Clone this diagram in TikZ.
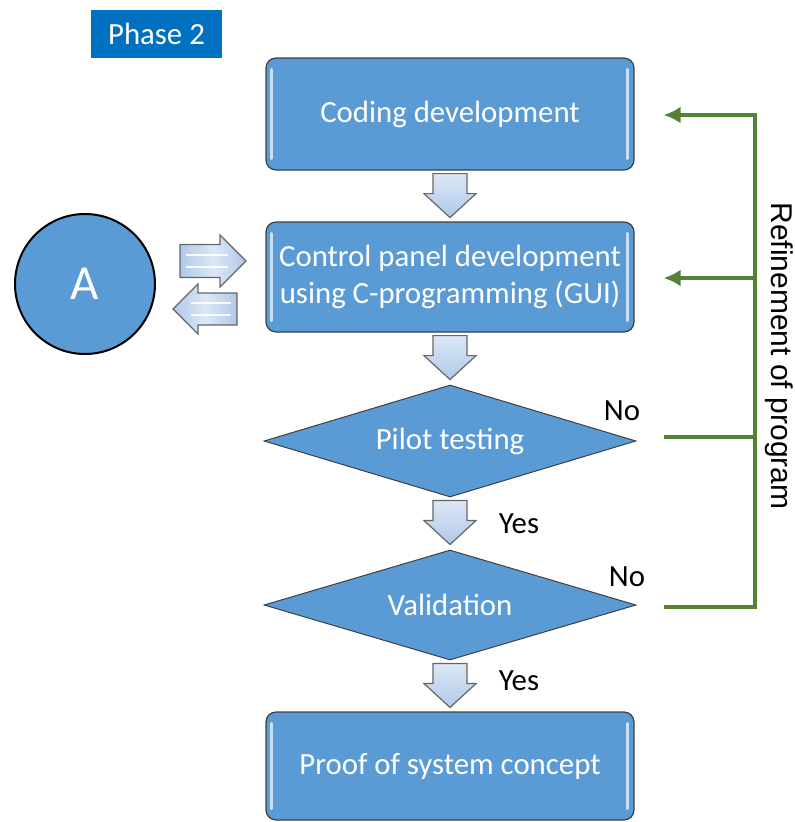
\documentclass[tikz,border=0pt]{standalone}
\usepackage{fontspec}
\setmainfont{Carlito}
\newfontfamily\arialf{Liberation Sans}
\usetikzlibrary{shapes.geometric,arrows.meta,calc}
\definecolor{boxblue}{HTML}{5B9BD5}
\definecolor{phaseblue}{HTML}{0070C0}
\definecolor{edgegray}{HTML}{404040}
\definecolor{stripe}{HTML}{C9E0F5}
\definecolor{arrowlight}{HTML}{DCE8F6}
\definecolor{arrowdark}{HTML}{AFC8E8}
\definecolor{refgreen}{HTML}{548235}
\begin{document}
\begin{tikzpicture}[x=1pt,y=-1pt,
  every node/.style={font=\fontsize{30.8}{37}\selectfont},
  procbox/.style={rectangle, rounded corners=10pt, fill=boxblue, draw=edgegray, line width=1.2pt,
    minimum width=368pt, text=white, align=center, inner sep=0pt},
  decbox/.style={diamond, fill=boxblue, draw=edgegray, line width=1pt, minimum width=372pt,
    text=white, inner sep=0pt, aspect=3.3},
  blockarrow/.style={draw=edgegray!80, line width=1.2pt, top color=arrowlight, bottom color=arrowdark},
  hblockarrow/.style={draw=edgegray!80, line width=1.2pt, left color=arrowdark, right color=arrowdark, middle color=arrowlight},
  gline/.style={draw=refgreen, line width=4pt},
  gtip/.style={-{Latex[length=17pt,width=17pt]}},
  lbl/.style={text=black},
  downblk/.pic={\draw[blockarrow] (-17,3) -- (17,3) -- (17,23) -- (26,23) -- (0,47) -- (-26,23) -- (-17,23) -- cycle;},
  rightblk/.pic={\draw[hblockarrow] (0,-16.5) -- (40,-16.5) -- (40,-26) -- (66,0) -- (40,26) -- (40,16.5) -- (0,16.5) -- cycle;
     \draw[white, line width=2.5pt, opacity=0.9] (6,-6) -- (48,-6) (6,6) -- (48,6);},
  leftblk/.pic={\draw[hblockarrow] (0,0) -- (25,-25) -- (25,-16) -- (64,-16) -- (64,16) -- (25,16) -- (25,25) -- cycle;
     \draw[white, line width=2.5pt, opacity=0.9] (18,-6) -- (58,-6) (18,6) -- (58,6);},
]
\useasboundingbox (0,0) rectangle (795,822);

\node[fill=phaseblue, text=white, minimum width=131pt, minimum height=48pt, inner sep=0pt] (phase) at (156.5,34) {Phase 2};

\node[procbox, minimum height=112pt] (coding) at (450,114) {Coding development};
\node[procbox, minimum height=110pt] (ctrl) at (450,277) {Control panel development\\using C-programming (GUI)};
\node[decbox, minimum height=112pt] (pilot) at (450,441) {Pilot testing};
\node[decbox, minimum height=110pt] (valid) at (450,605) {Validation};
\node[procbox, minimum height=108pt] (proof) at (450,766) {Proof of system concept};

% inner light stripes of the boxes
\foreach \b in {coding,ctrl,proof}{
  \draw[stripe, line width=3pt, line cap=round] ($(\b.north west)+(6,12)$) -- ($(\b.south west)+(6,-12)$);
  \draw[stripe, line width=3pt, line cap=round] ($(\b.north east)+(-7,12)$) -- ($(\b.south east)+(-7,-12)$);
}

\node[circle, fill=boxblue, draw=black, line width=2pt, minimum size=140pt, text=white,
  font=\fontsize{49}{49}\selectfont] (A) at (85,284) {A};

% block arrows
\pic at (coding.south) {downblk};
\pic at (ctrl.south) {downblk};
\pic at (pilot.south) {downblk};
\pic at (valid.south) {downblk};
\pic at (180,261) {rightblk};
\pic at (173,309) {leftblk};

% labels
\node[lbl] (no1) at (622,411) {No};
\node[lbl] (no2) at (627,577) {No};
\node[lbl] (yes1) at (519,524) {Yes};
\node[lbl] (yes2) at (519,681) {Yes};

% refinement loop
\coordinate (r1) at (755,115);
\coordinate (r2) at (755,278);
\coordinate (r3) at (755,437);
\coordinate (r4) at (755,607);
\draw[gline, gtip] ([xshift=27pt,yshift=-2pt]valid.east) -- (r4) -- (r1) -- ([xshift=29pt,yshift=-1pt]coding.east);
\draw[gline, gtip] (r2) -- ([xshift=29pt,yshift=-1pt]ctrl.east);
\draw[gline] ([xshift=27pt,yshift=4pt]pilot.east) -- (r3);

\node[rotate=-90, font=\arialf\fontsize{30}{30}\selectfont] (refine) at (779,356) {Refinement of program};
\end{tikzpicture}
\end{document}
